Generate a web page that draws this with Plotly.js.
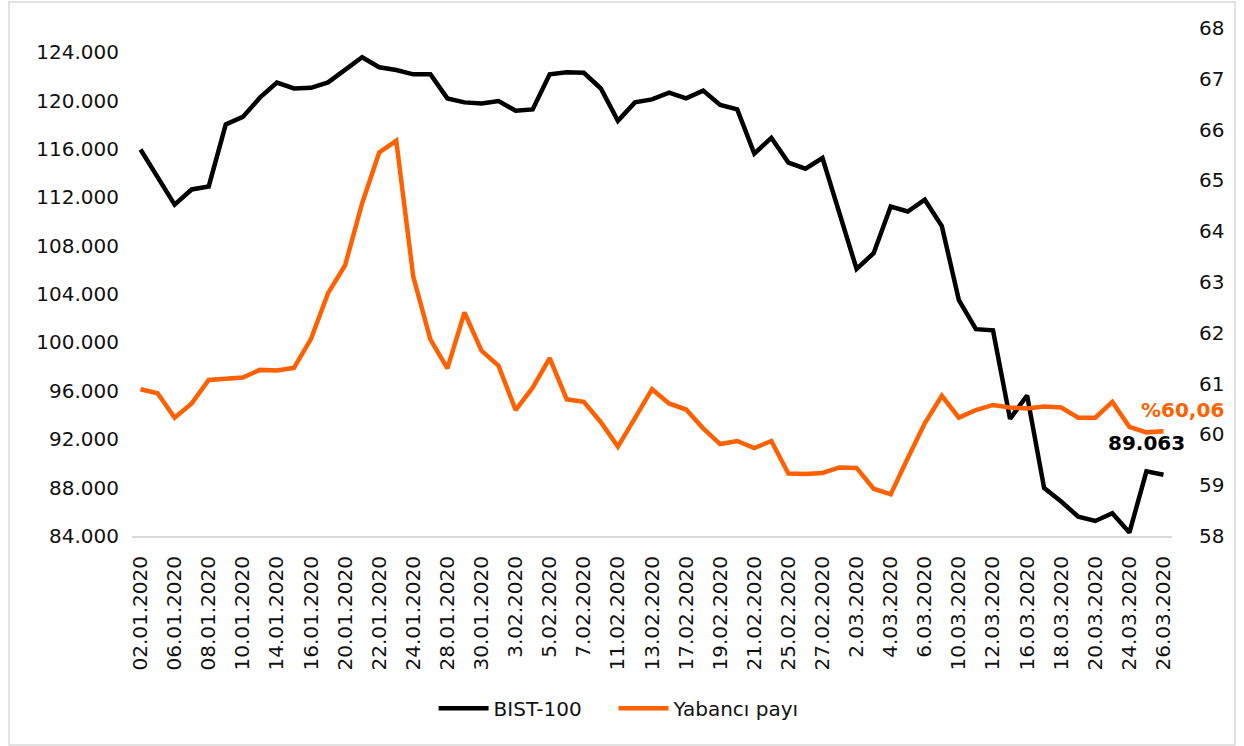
<!DOCTYPE html>
<html>
<head>
<meta charset="utf-8">
<script src="https://cdn.plot.ly/plotly-3.0.1.min.js"></script>
<style>html,body{margin:0;padding:0;background:#fff;}#chart{width:1244px;height:746px;}</style>
</head>
<body>
<div id="chart"></div>
<script>
const dates = [
  "02.01.2020","03.01.2020","06.01.2020","07.01.2020","08.01.2020","09.01.2020","10.01.2020","13.01.2020","14.01.2020","15.01.2020",
  "16.01.2020","17.01.2020","20.01.2020","21.01.2020","22.01.2020","23.01.2020","24.01.2020","27.01.2020","28.01.2020","29.01.2020",
  "30.01.2020","31.01.2020","3.02.2020","4.02.2020","5.02.2020","6.02.2020","7.02.2020","10.02.2020","11.02.2020","12.02.2020",
  "13.02.2020","14.02.2020","17.02.2020","18.02.2020","19.02.2020","20.02.2020","21.02.2020","24.02.2020","25.02.2020","26.02.2020",
  "27.02.2020","28.02.2020","2.03.2020","3.03.2020","4.03.2020","5.03.2020","6.03.2020","9.03.2020","10.03.2020","11.03.2020",
  "12.03.2020","13.03.2020","16.03.2020","17.03.2020","18.03.2020","19.03.2020","20.03.2020","23.03.2020","24.03.2020","25.03.2020",
  "26.03.2020"
];
const bist100 = [
  115950,113735,111400,112650,112900,118025,118650,120240,121480,121000,
  121050,121500,122600,123585,122750,122530,122170,122170,120180,119850,
  119750,119960,119160,119270,122170,122340,122300,121000,118330,119850,
  120100,120650,120180,120820,119630,119270,115620,116920,114870,114370,
  115250,110640,106075,107380,111245,110830,111800,109620,103500,101100,
  101000,93685,95620,87960,86850,85600,85245,85880,84280,89340,
  89063
];
const yabanciPayi = [
  60.89,60.81,60.33,60.61,61.07,61.10,61.12,61.27,61.26,61.31,
  61.88,62.78,63.33,64.55,65.55,65.78,63.10,61.87,61.30,62.40,
  61.65,61.35,60.48,60.92,61.50,60.69,60.64,60.24,59.76,60.32,
  60.89,60.61,60.49,60.12,59.81,59.87,59.73,59.87,59.23,59.22,
  59.24,59.35,59.34,58.93,58.82,59.53,60.22,60.76,60.33,60.48,
  60.58,60.53,60.51,60.55,60.53,60.33,60.33,60.64,60.15,60.04,
  60.06
];
const seriesNames = ["BIST-100", "Yabancı payı"];
const lastLabels = ["89.063", "%60,06"];
const xTickVals = dates.filter((d, i) => i % 2 === 0);

const FONT = "DejaVu Sans, Verdana, sans-serif";
const ORANGE = "#ff6000";
const TXT = "#111111";

const traces = [
  {x: dates, y: bist100, name: seriesNames[0], type: "scatter", mode: "lines",
   line: {color: "#000000", width: 4.5}, yaxis: "y", legend: "legend"},
  {x: dates, y: yabanciPayi, name: seriesNames[1], type: "scatter", mode: "lines",
   line: {color: ORANGE, width: 4.5}, yaxis: "y2", legend: "legend2"}
];

const legendBase = {orientation: "h", xanchor: "left", y: -0.339, yanchor: "middle",
                    font: {family: FONT, size: 20, color: TXT}, itemwidth: 50,
                    bgcolor: "rgba(0,0,0,0)"};

const layout = {
  width: 1244, height: 746,
  margin: {l: 132, r: 72, t: 28, b: 210},
  paper_bgcolor: "#ffffff", plot_bgcolor: "#ffffff",
  separators: ",.",
  font: {family: FONT, size: 20, color: TXT},
  showlegend: true,
  legend: Object.assign({}, legendBase, {x: 0.29}),
  legend2: Object.assign({}, legendBase, {x: 0.463}),
  xaxis: {type: "category", categoryorder: "array", categoryarray: dates,
          range: [-0.5, dates.length - 0.5],
          tickmode: "array", tickvals: xTickVals, ticktext: xTickVals,
          tickangle: -90, showgrid: false, zeroline: false,
          showline: true, linecolor: "#d9d9d9", linewidth: 2, ticks: "",
          ticklabelstandoff: 10, tickfont: {family: FONT, size: 20, color: TXT}},
  yaxis: {range: [84000, 126000], tick0: 84000, dtick: 4000, tickformat: ",d",
          showgrid: false, zeroline: false, showline: false, ticks: "",
          ticklabelstandoff: 12, tickfont: {family: FONT, size: 20, color: TXT}},
  yaxis2: {range: [58, 68], dtick: 1, overlaying: "y", side: "right",
           showgrid: false, zeroline: false, showline: false, ticks: "",
           ticklabelstandoff: 26, tickfont: {family: FONT, size: 20, color: TXT}},
  annotations: [
    {x: dates[dates.length - 1], y: bist100[bist100.length - 1], xref: "x", yref: "y",
     text: "<b>" + lastLabels[0] + "</b>", showarrow: false, xanchor: "center", yanchor: "middle",
     xshift: -17, yshift: 32, font: {family: FONT, size: 20, color: "#000000"}},
    {x: dates[dates.length - 1], y: yabanciPayi[yabanciPayi.length - 1], xref: "x", yref: "y2",
     text: "<b>" + lastLabels[1] + "</b>", showarrow: false, xanchor: "center", yanchor: "middle",
     xshift: 19, yshift: 21, font: {family: FONT, size: 20, color: ORANGE}}
  ],
  shapes: [
    {type: "rect", xref: "paper", yref: "paper",
     x0: (9 - 132) / 1040, x1: (1235 - 132) / 1040,
     y0: (536 - 745) / 508, y1: (536 - 2) / 508,
     line: {color: "#d9d9d9", width: 1.5}, fillcolor: "rgba(0,0,0,0)", layer: "below"}
  ]
};

Plotly.newPlot("chart", traces, layout, {staticPlot: true, displayModeBar: false});
</script>
</body>
</html>
